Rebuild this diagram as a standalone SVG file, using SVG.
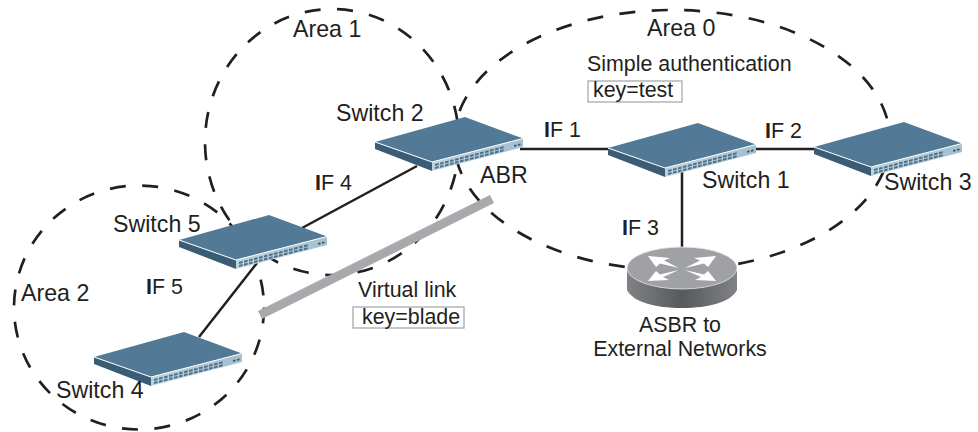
<svg xmlns="http://www.w3.org/2000/svg" width="978" height="432" viewBox="0 0 978 432">
<style>
text{font-family:"Liberation Sans",Arial,sans-serif;font-size:21.4px;fill:#231f20}
text.big{font-size:23.2px}
.i{font-weight:bold}
.area{fill:none;stroke:#231f20;stroke-width:2.7;stroke-dasharray:16 16.500}
.link{fill:none;stroke:#231f20;stroke-width:2.500}
.keybox{fill:#fff;stroke:#a7a9ac;stroke-width:1.300}
</style>
<defs>
<linearGradient id="rside" x1="0" y1="0" x2="1" y2="0"><stop offset="0" stop-color="#bcd2de"/><stop offset="1" stop-color="#a4bfce"/></linearGradient>
<linearGradient id="cyl" x1="0" y1="0" x2="1" y2="0"><stop offset="0" stop-color="#808285"/><stop offset=".5" stop-color="#58595b"/><stop offset="1" stop-color="#808285"/></linearGradient>
<g id="port"><rect x="0" y="0" width="3.600" height="2" fill="#4f6f88"/><rect x="0" y="3" width="3.600" height="2" fill="#4f6f88"/></g>
<g id="sw">
<path d="M0 0L57 20V29L0 7Z" fill="#3b5c75"/>
<path d="M57 20L148 -3.500V5L57 29Z" fill="url(#rside)"/>
<path d="M0 0L90 -25L148 -3.500L57 20Z" fill="#527a96"/>
<path d="M0 0L57 20L148 -3.500" fill="none" stroke="#fff" stroke-width="1"/>
<g transform="translate(60,22) skewY(-14.500)">
<use href="#port" x="0" y="0"/><use href="#port" x="5" y="0"/><use href="#port" x="10" y="0"/><use href="#port" x="15" y="0"/><use href="#port" x="20" y="0"/><use href="#port" x="25" y="0"/><use href="#port" x="30" y="0"/><use href="#port" x="35" y="0"/><use href="#port" x="40" y="0"/><use href="#port" x="45" y="0"/><use href="#port" x="50" y="0"/><use href="#port" x="55" y="0"/><use href="#port" x="60" y="0"/><use href="#port" x="65" y="0"/>
<rect x="79" y="1.500" width="2.500" height="1.800" fill="#35566f"/><rect x="83" y="1.500" width="2.500" height="1.800" fill="#35566f"/>
</g>
</g>
</defs>
<rect width="978" height="432" fill="#fff"/>
<g id="areas">
<ellipse id="area1" class="area" cx="332" cy="142" rx="127" ry="133"/>
<ellipse id="area0" class="area" cx="672" cy="140" rx="218" ry="130"/>
<ellipse id="area2" class="area" cx="139" cy="307.500" rx="125" ry="122"/>
</g>
<g id="connectors">
<line class="link" x1="520" y1="149" x2="610" y2="149"/>
<line class="link" x1="755" y1="149" x2="816" y2="149"/>
<line class="link" x1="682" y1="170" x2="682" y2="248"/>
<line class="link" x1="417" y1="166" x2="302" y2="228"/>
<line class="link" x1="257" y1="263" x2="199" y2="337"/>
<line id="virtual-link" x1="260" y1="315" x2="492" y2="199" stroke="#a7a9ac" stroke-width="9"/>
</g>
<g id="switch2"><use href="#sw" x="375" y="142"/><text class="big" x="336" y="121">Switch 2</text></g>
<g id="switch1"><use href="#sw" x="608" y="148"/><text class="big" x="702" y="188">Switch 1</text></g>
<g id="switch3"><use href="#sw" x="814" y="147"/><text class="big" x="884" y="190">Switch 3</text></g>
<g id="switch5"><use href="#sw" x="179" y="240"/><text class="big" x="113" y="232">Switch 5</text></g>
<g id="switch4"><use href="#sw" x="94" y="357"/><text class="big" x="56" y="398">Switch 4</text></g>
<g id="asbr">
<path d="M627 268V290C633 302 655 308 682 308C709 308 731 302 737 290V268Z" fill="url(#cyl)"/>
<ellipse cx="682" cy="268" rx="55" ry="21" fill="#a0a1a4" stroke="#e6e7e8" stroke-width=".8"/>
<g fill="#fff">
<path d="M648 256L670 258L664 260.500L679 268L660 263.500L656 267Z"/>
<path d="M716 256L694 258L700 260.500L685 268L704 263.500L708 267Z"/>
<path d="M648 281L669 280L663 277L679 270L660 274.500L656 271Z"/>
<path d="M716 281L695 280L701 277L685 270L704 274.500L708 271Z"/>
</g>
<text x="680" y="332" text-anchor="middle">ASBR to</text>
<text x="680" y="356" text-anchor="middle">External Networks</text>
</g>
<g id="labels">
<text class="big" x="293" y="37">Area 1</text>
<text class="big" x="647" y="36">Area 0</text>
<text class="big" x="21" y="301">Area 2</text>
<text x="587" y="71">Simple authentication</text>
<rect class="keybox" x="588" y="81" width="94" height="21"/>
<text x="593" y="97">key=test</text>
<text x="544" y="137"><tspan class="i">I</tspan>F 1</text>
<text x="765" y="138"><tspan class="i">I</tspan>F 2</text>
<text x="622" y="235"><tspan class="i">I</tspan>F 3</text>
<text x="315" y="190"><tspan class="i">I</tspan>F 4</text>
<text x="146" y="294"><tspan class="i">I</tspan>F 5</text>
<text class="big" x="480" y="183">ABR</text>
<text x="358" y="297">Virtual link</text>
<rect class="keybox" x="353" y="307" width="111" height="21"/>
<text x="362" y="324">key=blade</text>
</g>
</svg>
